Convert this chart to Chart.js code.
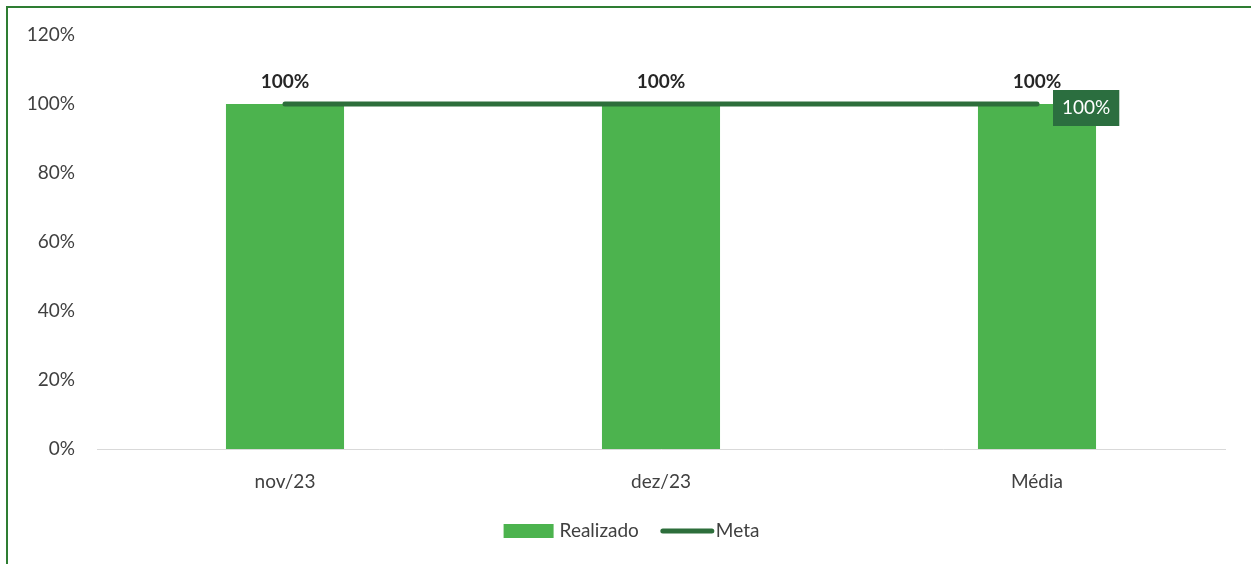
<!DOCTYPE html>
<html>
<head>
<meta charset="utf-8">
<script src="https://cdn.jsdelivr.net/npm/chart.js@4"></script>
<style>
  html, body { margin: 0; padding: 0; background: #fff; }
  #wrap { width: 1251px; height: 564px; position: relative; }
</style>
</head>
<body>
<div id="wrap"><canvas id="grafico"></canvas></div>
<script>
// DADOS
const categorias = ["nov/23", "dez/23", "Média"];
const realizado = [100, 100, 100];
const meta = [100, 100, 100];
const yTicks = [0, 20, 40, 60, 80, 100, 120];

const corBarra = "#4cb34e";
const corMeta = "#2d6e3b";
const fonte = "Lato, 'Open Sans', sans-serif";
const tam = 19;

// moldura verde + fundo
const moldura = {
  id: "moldura",
  beforeDraw(chart) {
    const c = chart.ctx;
    c.save();
    c.fillStyle = "#fff";
    c.fillRect(0, 0, chart.width, chart.height);
    c.strokeStyle = "#2e7d32";
    c.lineWidth = 2;
    c.beginPath();
    c.moveTo(7, chart.height);
    c.lineTo(7, 7);
    c.lineTo(chart.width, 7);
    c.stroke();
    c.restore();
  }
};

// rótulos de dados
const rotulos = {
  id: "rotulos",
  afterDatasetsDraw(chart) {
    const c = chart.ctx;
    c.save();
    // barras
    const barras = chart.getDatasetMeta(0);
    c.font = "bold " + tam + "px " + fonte;
    c.fillStyle = "#262626";
    c.textAlign = "center";
    c.textBaseline = "middle";
    barras.data.forEach((el, i) => {
      c.fillText(realizado[i] + "%", el.x, el.y - 22);
    });
    // último ponto da meta
    const linha = chart.getDatasetMeta(1);
    const ult = linha.data[linha.data.length - 1];
    const txt = meta[meta.length - 1] + "%";
    c.font = tam + "px " + fonte;
    const w = c.measureText(txt).width + 18;
    const bx = ult.x + 16, by = ult.y - 14;
    c.fillStyle = "#2b6e3f";
    c.fillRect(bx, by, w, 36);
    c.fillStyle = "#fff";
    c.fillText(txt, bx + w / 2, by + 18);
    c.restore();
  }
};

// legenda embaixo
const legenda = {
  id: "legenda",
  afterDraw(chart) {
    const c = chart.ctx;
    const y = 531;
    c.save();
    c.font = tam + "px " + fonte;
    c.fillStyle = "#404040";
    c.textBaseline = "middle";
    c.textAlign = "left";
    const t1 = chart.data.datasets[0].label;
    const t2 = chart.data.datasets[1].label;
    const w1 = 50 + 6 + c.measureText(t1).width;
    const w2 = 53 + 2 + c.measureText(t2).width;
    let x = chart.width / 2 - (w1 + 22 + w2) / 2 + 6;
    c.fillStyle = corBarra;
    c.fillRect(x, y - 7, 50, 14);
    c.fillStyle = "#404040";
    c.fillText(t1, x + 56, y);
    x += w1 + 22;
    c.strokeStyle = corMeta;
    c.lineWidth = 5;
    c.lineCap = "round";
    c.beginPath();
    c.moveTo(x + 2, y);
    c.lineTo(x + 51, y);
    c.stroke();
    c.fillText(t2, x + 55, y);
    c.restore();
  }
};

new Chart(document.getElementById("grafico"), {
  data: {
    labels: categorias,
    datasets: [
      {
        type: "bar",
        label: "Realizado",
        data: realizado,
        backgroundColor: corBarra,
        categoryPercentage: 1,
        barPercentage: 0.314,
        order: 2
      },
      {
        type: "line",
        label: "Meta",
        data: meta,
        borderColor: corMeta,
        borderWidth: 5,
        borderCapStyle: "round",
        pointRadius: 0,
        order: 1
      }
    ]
  },
  options: {
    responsive: true,
    maintainAspectRatio: false,
    animation: false,
    layout: { padding: { left: 10, right: 26, top: 35, bottom: 0 } },
    plugins: {
      legend: { display: false },
      tooltip: { enabled: false }
    },
    scales: {
      x: {
        grid: { display: false, drawTicks: false },
        border: { color: "#d9d9d9", width: 1 },
        ticks: {
          padding: 21,
          color: "#404040",
          font: { family: fonte, size: tam }
        },
        afterFit(scale) { scale.height = 115; }
      },
      y: {
        min: 0,
        max: 120,
        afterBuildTicks(scale) {
          scale.ticks = yTicks.map(v => ({ value: v }));
        },
        grid: { display: false, drawTicks: false },
        border: { display: false },
        ticks: {
          padding: 22,
          color: "#404040",
          font: { family: fonte, size: tam },
          callback: v => v + "%"
        },
        afterFit(scale) { scale.width = 87; }
      }
    }
  },
  plugins: [moldura, rotulos, legenda]
});
</script>
</body>
</html>
